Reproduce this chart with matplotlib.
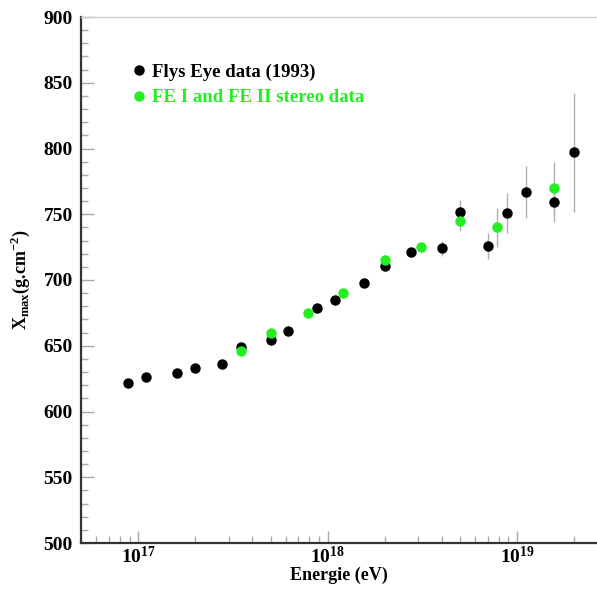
import matplotlib
matplotlib.use("Agg")
import matplotlib.pyplot as plt
import numpy as np
from matplotlib.ticker import LogLocator, MultipleLocator, FuncFormatter

# Flys Eye data (1993)
fe_energy = [8.8e16, 1.1e17, 1.6e17, 2.0e17, 2.77e17, 3.5e17, 5.0e17, 6.2e17, 8.8e17,
             1.1e18, 1.55e18, 2.0e18, 2.77e18, 4.0e18, 5.0e18, 7.0e18, 8.9e18,
             1.12e19, 1.56e19, 2.0e19]
fe_xmax = [622, 626, 629, 633, 636, 649, 654, 661, 679,
           685, 698, 711, 721, 724, 752, 726, 751,
           767, 759, 797]
fe_err = [0, 0, 0, 0, 0, 0, 0, 0, 0,
          0, 0, 2, 3, 6, 9, 10, 15,
          20, 15, 45]

# FE I and FE II stereo data
st_energy = [3.5e17, 5.0e17, 7.9e17, 1.2e18, 2.0e18, 3.1e18, 5.0e18, 7.8e18, 1.56e19]
st_xmax = [646, 660, 675, 690, 715, 725, 745, 740, 770]
st_err = [0, 0, 0, 0, 2, 3, 8, 15, 20]

plt.rcParams['font.family'] = ['Liberation Serif', 'DejaVu Serif']
plt.rcParams['mathtext.fontset'] = 'custom'
plt.rcParams['mathtext.rm'] = 'Liberation Serif:bold'
plt.rcParams['mathtext.bf'] = 'Liberation Serif:bold'

fig = plt.figure(figsize=(5.97, 5.93), dpi=100)
ax = fig.add_axes([81/597, 1-543/593, 1-81/597, (543-17)/593])

ax.errorbar(fe_energy, fe_xmax, yerr=fe_err, fmt='none', ecolor='#b0b0b0', elinewidth=1.0, zorder=1)
ax.errorbar(st_energy, st_xmax, yerr=st_err, fmt='none', ecolor='#b0b0b0', elinewidth=1.0, zorder=1)
ax.plot(fe_energy, fe_xmax, 'o', color='black', markersize=6.5, linestyle='none', zorder=3,
        label='Flys Eye data (1993)')
ax.plot(st_energy, st_xmax, 'o', color='#22ee22', markersize=6.5, linestyle='none', zorder=4,
        label='FE I and FE II stereo data')

ax.set_xscale('log')
ax.set_xlim(10**16.698, 10**19.422)
ax.set_ylim(500, 900)
ax.yaxis.set_major_locator(MultipleLocator(50))
ax.yaxis.set_minor_locator(MultipleLocator(10))
ax.xaxis.set_major_locator(LogLocator(base=10, numticks=10))
ax.xaxis.set_minor_locator(LogLocator(base=10, subs=np.arange(2, 10), numticks=20))
ax.xaxis.set_major_formatter(FuncFormatter(lambda v, p: r'$\mathbf{10^{%d}}$' % round(np.log10(v))))

ax.tick_params(axis='both', which='major', direction='in', length=9, width=1, color='#aaaaaa',
               labelsize=14, pad=6)
ax.tick_params(axis='both', which='minor', direction='in', length=5, width=1, color='#aaaaaa')
for lab in ax.get_yticklabels():
    lab.set_fontweight('bold')
ax.tick_params(axis='x', labelsize=14, pad=2)

ax.spines['left'].set_color('#333333')
ax.spines['left'].set_linewidth(1.6)
ax.spines['bottom'].set_color('#333333')
ax.spines['bottom'].set_linewidth(1.6)
ax.spines['top'].set_color('#cccccc')
ax.spines['top'].set_linewidth(1.0)
ax.spines['right'].set_visible(False)

ax.set_xlabel('Energie (eV)', fontsize=13, fontweight='bold', labelpad=0)
ax.set_ylabel(r'X$_{\mathregular{max}}$(g.cm$^{\mathregular{-2}}$)', fontsize=13, fontweight='bold', labelpad=8)

leg = ax.legend(loc='upper left', bbox_to_anchor=(0.062, 0.944), frameon=False, handletextpad=0.2,
                handlelength=1.0, labelspacing=0.45, prop={'family': 'Liberation Serif', 'weight': 'bold', 'size': 13.5})
for t, c in zip(leg.get_texts(), ['black', '#22ee22']):
    t.set_color(c)

fig.savefig('out.png', dpi=100)
